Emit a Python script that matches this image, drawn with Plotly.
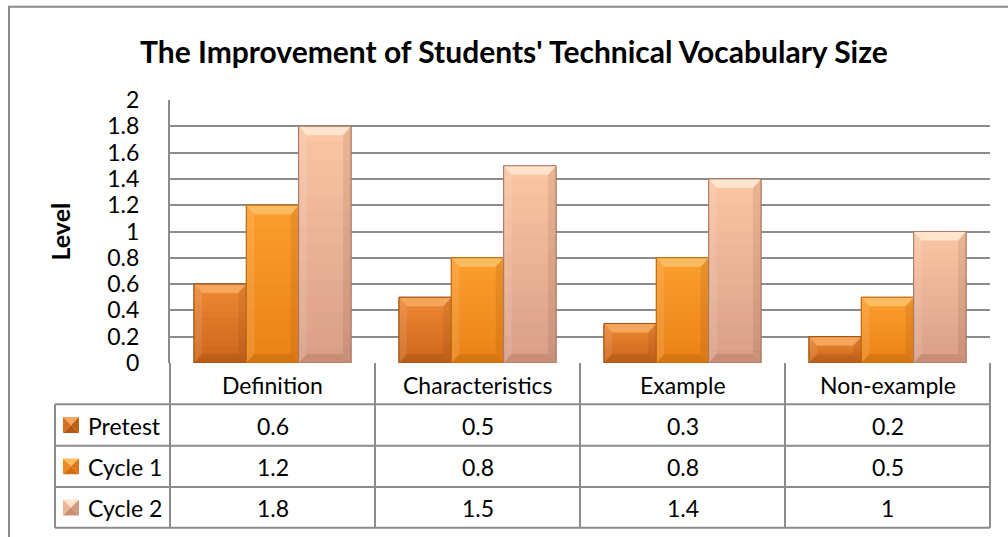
import plotly.graph_objects as go

# ---------------- data ----------------
categories = ["Definition", "Characteristics", "Example", "Non-example"]
series_names = ["Pretest", "Cycle 1", "Cycle 2"]
pretest = [0.6, 0.5, 0.3, 0.2]
cycle1 = [1.2, 0.8, 0.8, 0.5]
cycle2 = [1.8, 1.5, 1.4, 1]
y_ticks = [0, 0.2, 0.4, 0.6, 0.8, 1, 1.2, 1.4, 1.6, 1.8, 2]
y_tick_text = ["0", "0.2", "0.4", "0.6", "0.8", "1", "1.2", "1.4", "1.6", "1.8", "2"]
title_text = "The Improvement of Students' Technical Vocabulary Size"
y_title = "Level"

series_values = [pretest, cycle1, cycle2]

# ---------------- styles ----------------
W, H = 1008, 537
PL, PR, PT, PB = 170, 990, 99.5, 363.5   # plot area in px
FONT = "Lato"
GRID = "#8c8c8c"
styles = [
    dict(main="#DE7628", g_top=(0xEE, 0x8A, 0x34), g_bot=(0xCA, 0x64, 0x1C), top="#F4A65C",
         left="#D87022", right="#C05E16", bottom="#B8580F", line="#A0500F"),
    dict(main="#F7901E", g_top=(0xFB, 0x9E, 0x30), g_bot=(0xEA, 0x82, 0x16), top="#FDBC62",
         left="#F08A1C", right="#DC7612", bottom="#D06E10", line="#C06A12"),
    dict(main="#EFAF8E", g_top=(0xFB, 0xC6, 0xA4), g_bot=(0xD8, 0x9E, 0x88), top="#FFE4CE",
         left="#EDB498", right="#D39A80", bottom="#C98E74", line="#A87864"),
]

def px_x(px):
    return (px - PL) / (PR - PL)

def px_y(py):
    return (PB - py) / (PB - PT)

def hexc(rgb):
    return "#%02X%02X%02X" % tuple(int(round(c)) for c in rgb)

gap = 0.234
ncat = len(categories)
nser = len(series_values)
bw = (1 - gap) / nser

fig = go.Figure()
shapes = []
annotations = []

bx = 8 / ((PR - PL) / ncat)
by = 9 / ((PB - PT) / 2)
NB = 14

def path(pts):
    return "M " + " L ".join(f"{a},{c}" for a, c in pts) + " Z"

for j, (name, vals) in enumerate(zip(series_names, series_values)):
    st = styles[j]
    fig.add_trace(go.Bar(
        x=list(range(ncat)), y=vals, name=name,
        marker=dict(color=st["main"], line=dict(color=st["line"], width=1)),
        showlegend=False, hoverinfo="skip",
    ))
    for i, v in enumerate(vals):
        x0 = i - (1 - gap) / 2 + j * bw
        x1 = x0 + bw
        # vertical gradient bands
        for k in range(NB):
            t = (k + 0.5) / NB
            col = [st["g_bot"][c] + (st["g_top"][c] - st["g_bot"][c]) * t for c in range(3)]
            shapes.append(dict(type="rect", xref="x", yref="y", x0=x0, x1=x1,
                               y0=v * k / NB, y1=v * (k + 1) / NB,
                               line=dict(width=0), fillcolor=hexc(col)))
        b = min(by, v / 3)
        shapes.append(dict(type="path", xref="x", yref="y", line=dict(width=0), fillcolor="rgba(255,255,255,0.10)",
                           path=path([(x0, 0), (x0, v), (x0 + bx, v - b), (x0 + bx, b)])))
        shapes.append(dict(type="path", xref="x", yref="y", line=dict(width=0), fillcolor="rgba(90,40,0,0.10)",
                           path=path([(x1, 0), (x1, v), (x1 - bx, v - b), (x1 - bx, b)])))
        shapes.append(dict(type="path", xref="x", yref="y", line=dict(width=0), fillcolor="rgba(90,40,0,0.14)",
                           path=path([(x0, 0), (x1, 0), (x1 - bx, b), (x0 + bx, b)])))
        shapes.append(dict(type="path", xref="x", yref="y", line=dict(width=0), fillcolor=st["top"],
                           path=path([(x0, v), (x1, v), (x1 - bx, v - b), (x0 + bx, v - b)])))
        shapes.append(dict(type="rect", xref="x", yref="y", x0=x0, x1=x1, y0=0, y1=v,
                           line=dict(color=st["line"], width=1), fillcolor="rgba(0,0,0,0)"))

# outer chart border
shapes.append(dict(type="rect", xref="paper", yref="paper", layer="below",
                   x0=px_x(9), x1=px_x(1012), y0=px_y(540), y1=px_y(6),
                   line=dict(color="#8a8a8a", width=2), fillcolor="rgba(0,0,0,0)"))

# ---------------- data table ----------------
col_edges = [PL + k * (PR - PL) / ncat for k in range(ncat + 1)]
row_edges = [PB, 405, 446.5, 488, 529]
LEG_L = 55
tl = dict(color=GRID, width=2)
for ry in row_edges[1:]:
    shapes.append(dict(type="line", xref="paper", yref="paper", x0=px_x(LEG_L), x1=px_x(PR),
                       y0=px_y(ry), y1=px_y(ry), line=tl))
for cx in col_edges:
    shapes.append(dict(type="line", xref="paper", yref="paper", x0=px_x(cx), x1=px_x(cx),
                       y0=px_y(PB), y1=px_y(row_edges[-1]), line=tl))
shapes.append(dict(type="line", xref="paper", yref="paper", x0=px_x(LEG_L), x1=px_x(LEG_L),
                   y0=px_y(row_edges[1]), y1=px_y(row_edges[-1]), line=tl))

tfont = dict(family=FONT, size=23, color="#000000")
for i, cat in enumerate(categories):
    cx = (col_edges[i] + col_edges[i + 1]) / 2
    annotations.append(dict(x=px_x(cx), y=px_y((row_edges[0] + row_edges[1]) / 2 + 1), xref="paper", yref="paper",
                            text=cat, showarrow=False, font=tfont, xanchor="center", yanchor="middle"))
    for j, vals in enumerate(series_values):
        cy = (row_edges[j + 1] + row_edges[j + 2]) / 2 + 1
        annotations.append(dict(x=px_x(cx), y=px_y(cy), xref="paper", yref="paper",
                                text=f"{vals[i]:g}", showarrow=False, font=tfont,
                                xanchor="center", yanchor="middle"))

# legend keys + names
ks = 16
for j, name in enumerate(series_names):
    st = styles[j]
    cy = (row_edges[j + 1] + row_edges[j + 2]) / 2
    kx0, kx1 = 63, 63 + ks
    ky0, ky1 = cy - ks / 2, cy + ks / 2
    mx, my = (kx0 + kx1) / 2, cy

    def ppath(pts):
        return "M " + " L ".join(f"{px_x(a)},{px_y(c)}" for a, c in pts) + " Z"
    shapes.append(dict(type="path", xref="paper", yref="paper", line=dict(width=0), fillcolor=st["top"],
                       path=ppath([(kx0, ky0), (kx1, ky0), (mx, my)])))
    shapes.append(dict(type="path", xref="paper", yref="paper", line=dict(width=0), fillcolor=st["left"],
                       path=ppath([(kx0, ky0), (kx0, ky1), (mx, my)])))
    shapes.append(dict(type="path", xref="paper", yref="paper", line=dict(width=0), fillcolor=st["right"],
                       path=ppath([(kx1, ky0), (kx1, ky1), (mx, my)])))
    shapes.append(dict(type="path", xref="paper", yref="paper", line=dict(width=0), fillcolor=st["bottom"],
                       path=ppath([(kx0, ky1), (kx1, ky1), (mx, my)])))
    annotations.append(dict(x=px_x(86), y=px_y(cy + 1), xref="paper", yref="paper", text=name,
                            showarrow=False, font=tfont, xanchor="left", yanchor="middle"))

# title and y-axis title
annotations.append(dict(x=px_x(514), y=px_y(50), xref="paper", yref="paper", text=f"<b>{title_text}</b>",
                        showarrow=False, font=dict(family=FONT, size=30, color="#000000"),
                        xanchor="center", yanchor="middle"))
annotations.append(dict(x=px_x(59), y=px_y((PT + PB) / 2), xref="paper", yref="paper", text=f"<b>{y_title}</b>",
                        showarrow=False, textangle=-90, font=dict(family=FONT, size=25, color="#000000"),
                        xanchor="center", yanchor="middle"))

fig.update_layout(
    width=W, height=H,
    margin=dict(l=PL, r=W - PR, t=PT, b=H - PB, pad=0),
    paper_bgcolor="white", plot_bgcolor="white",
    barmode="group", bargap=gap, bargroupgap=0,
    shapes=shapes, annotations=annotations,
    xaxis=dict(range=[-0.5, ncat - 0.5], showticklabels=False, showgrid=False, zeroline=False,
               showline=False, fixedrange=True),
    yaxis=dict(range=[0, 2], tickvals=y_ticks, ticktext=y_tick_text, showgrid=True, gridcolor=GRID,
               gridwidth=2, zeroline=False, showline=True, linecolor=GRID, linewidth=2,
               ticks="", ticklabelstandoff=24, tickfont=dict(family=FONT, size=23, color="#000000"),
               fixedrange=True),
    font=dict(family=FONT),
)

fig.write_html("out.html", config={"displayModeBar": False},
               post_script="document.body.style.margin='0';document.body.style.padding='0';")
